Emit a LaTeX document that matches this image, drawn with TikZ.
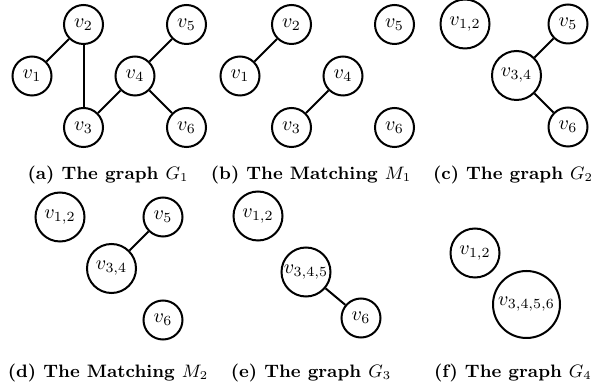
\documentclass[tikz,border=0pt]{standalone}
\usepackage{amsmath}
\tikzstyle{vertex} = [circle, draw=black, line width=1pt, minimum size=19.5pt, inner sep=0pt]
\tikzstyle{merged} = [vertex, minimum size=24.5pt]
\tikzstyle{bigmerged} = [vertex, minimum size=33.5pt]
\tikzstyle{subcap} = [anchor=base, font=\fontsize{9}{11}\selectfont\bfseries]
\tikzstyle{edge} = [line width=1pt]

\begin{document}
\begin{tikzpicture}[x=0.5pt, y=-0.5pt, node distance=25.75pt]
    \useasboundingbox (0,0) rectangle (605,384);

    % (a) graph G1
    \node [vertex]                                      (a1)    at (32,76) {$v_1$};
    \node [vertex, right of=a1, yshift=25.75pt]         (a2)    {$v_2$};
    \node [vertex, below of=a2, yshift=-25.75pt]        (a3)    {$v_3$};
    \node [vertex, right of=a3, yshift=25.75pt]         (a4)    {$v_4$};
    \node [vertex, right of=a4, yshift=25.75pt]         (a5)    {$v_5$};
    \node [vertex, below of=a5, yshift=-25.75pt]        (a6)    {$v_6$};
    \node [subcap]                                      (capa)  at (108,180) {(a) The graph $G_1$};

    \draw [edge] (a1) -- (a2);
    \draw [edge] (a2) -- (a3);
    \draw [edge] (a3) -- (a4);
    \draw [edge] (a4) -- (a5);
    \draw [edge] (a4) -- (a6);

    % (b) matching M1
    \node [vertex]                                      (b1)    at (240,76) {$v_1$};
    \node [vertex, right of=b1, yshift=25.75pt]         (b2)    {$v_2$};
    \node [vertex, below of=b2, yshift=-25.75pt]        (b3)    {$v_3$};
    \node [vertex, right of=b3, yshift=25.75pt]         (b4)    {$v_4$};
    \node [vertex, right of=b4, yshift=25.75pt]         (b5)    {$v_5$};
    \node [vertex, below of=b5, yshift=-25.75pt]        (b6)    {$v_6$};
    \node [subcap]                                      (capb)  at (311,180) {(b) The Matching $M_1$};

    \draw [edge] (b1) -- (b2);
    \draw [edge] (b3) -- (b4);

    % (c) graph G2
    \node [merged]                                      (c12)   at (465,24) {$v_{1,2}$};
    \node [merged, right of=c12, yshift=-25.75pt]       (c34)   {$v_{3,4}$};
    \node [vertex, right of=c34, yshift=25.75pt]        (c5)    {$v_5$};
    \node [vertex, below of=c5, yshift=-25.75pt]        (c6)    {$v_6$};
    \node [subcap]                                      (capc)  at (513,180) {(c) The graph $G_2$};

    \draw [edge] (c34) -- (c5);
    \draw [edge] (c34) -- (c6);

    % (d) matching M2
    \node [merged]                                      (d12)   at (60,217) {$v_{1,2}$};
    \node [merged, right of=d12, yshift=-25.75pt]       (d34)   {$v_{3,4}$};
    \node [vertex, right of=d34, yshift=25.75pt]        (d5)    {$v_5$};
    \node [vertex, below of=d5, yshift=-25.75pt]        (d6)    {$v_6$};
    \node [subcap]                                      (capd)  at (108,378) {(d) The Matching $M_2$};

    \draw [edge] (d34) -- (d5);

    % (e) graph G3
    \node [merged]                                      (e12)   at (258,216) {$v_{1,2}$};
    \node [merged, right of=e12, xshift=-1.75pt, yshift=-28pt] (e345) {$v_{3,4,5}$};
    \node [vertex, right of=e345, xshift=1.75pt, yshift=-23pt] (e6)   {$v_6$};
    \node [subcap]                                      (cape)  at (311,378) {(e) The graph $G_3$};

    \draw [edge] (e345) -- (e6);

    % (f) graph G4
    \node [merged]                                      (f12)   at (475,253) {$v_{1,2}$};
    \node [bigmerged, right of=f12, yshift=-25.75pt]    (f3456) {$v_{3,4,5,6}$};
    \node [subcap]                                      (capf)  at (513,378) {(f) The graph $G_4$};
\end{tikzpicture}
\end{document}
